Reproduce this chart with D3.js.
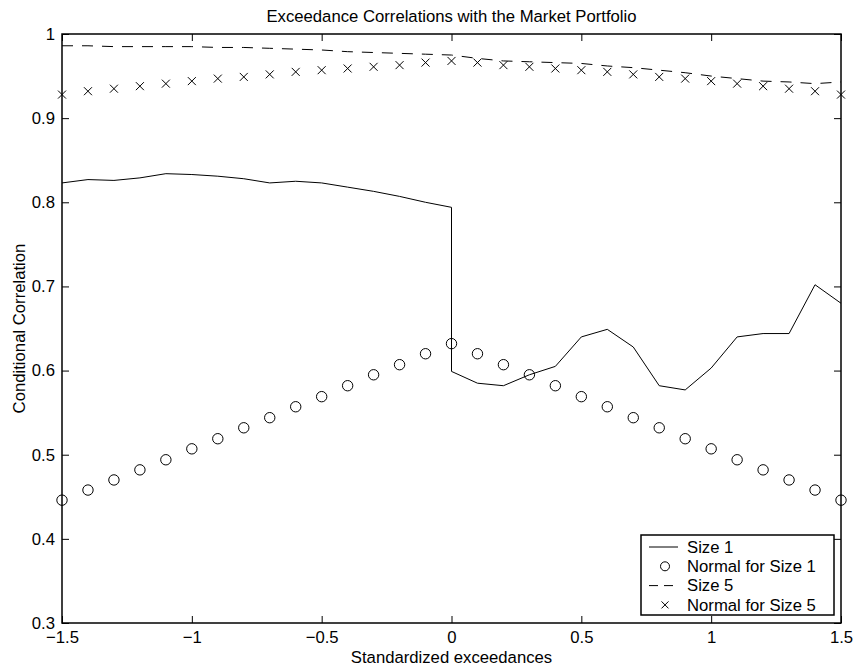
<!DOCTYPE html>
<html>
<head>
<meta charset="utf-8">
<script src="https://cdn.jsdelivr.net/npm/d3@7"></script>
<style>
  body { margin: 0; background: #fff; }
  text { font-family: "Liberation Sans", Arial, Helvetica, sans-serif; fill: #000; }
</style>
</head>
<body>
<div id="chart"></div>
<script>
// Exceedance correlations chart

const width = 857,
    height = 669,
    margin = ({ top: 34, right: 16, bottom: 46, left: 62 });

const fontSize = 16.7;

// x positions for the normal markers
const xNormal = [-1.5, -1.4, -1.3, -1.2, -1.1, -1.0, -0.9, -0.8, -0.7, -0.6, -0.5, -0.4, -0.3, -0.2, -0.1, 0,
    0.1, 0.2, 0.3, 0.4, 0.5, 0.6, 0.7, 0.8, 0.9, 1.0, 1.1, 1.2, 1.3, 1.4, 1.5];
const normalSize1 = [0.446, 0.458, 0.470, 0.482, 0.494, 0.507, 0.519, 0.532, 0.544, 0.557, 0.569, 0.582, 0.595, 0.607, 0.620, 0.632,
    0.620, 0.607, 0.595, 0.582, 0.569, 0.557, 0.544, 0.532, 0.519, 0.507, 0.494, 0.482, 0.470, 0.458, 0.446];
const normalSize5 = [0.928, 0.932, 0.935, 0.938, 0.941, 0.944, 0.947, 0.949, 0.952, 0.955, 0.957, 0.959, 0.961, 0.963, 0.966, 0.968,
    0.966, 0.963, 0.961, 0.959, 0.957, 0.955, 0.952, 0.949, 0.947, 0.944, 0.941, 0.938, 0.935, 0.932, 0.928];

// x positions for the lines (0 appears twice: negative and positive exceedances)
const xLine = [-1.5, -1.4, -1.3, -1.2, -1.1, -1.0, -0.9, -0.8, -0.7, -0.6, -0.5, -0.4, -0.3, -0.2, -0.1, 0,
    0, 0.1, 0.2, 0.3, 0.4, 0.5, 0.6, 0.7, 0.8, 0.9, 1.0, 1.1, 1.2, 1.3, 1.4, 1.5];
const size1 = [0.823, 0.827, 0.826, 0.829, 0.834, 0.833, 0.831, 0.828, 0.823, 0.825, 0.823, 0.818, 0.813, 0.807, 0.800, 0.794,
    0.599, 0.585, 0.582, 0.595, 0.605, 0.640, 0.649, 0.628, 0.582, 0.577, 0.603, 0.640, 0.644, 0.644, 0.702, 0.680];
const size5 = [0.986, 0.986, 0.985, 0.985, 0.985, 0.985, 0.984, 0.984, 0.983, 0.982, 0.981, 0.979, 0.978, 0.977, 0.976, 0.975,
    0.975, 0.971, 0.968, 0.967, 0.966, 0.965, 0.962, 0.960, 0.957, 0.954, 0.950, 0.947, 0.944, 0.943, 0.941, 0.943];

// tick labels
const xTicks = [-1.5, -1, -0.5, 0, 0.5, 1, 1.5];
const xTickLabels = ["\u22121.5", "\u22121", "\u22120.5", "0", "0.5", "1", "1.5"];
const yTicks = [0.3, 0.4, 0.5, 0.6, 0.7, 0.8, 0.9, 1];
const yTickLabels = ["0.3", "0.4", "0.5", "0.6", "0.7", "0.8", "0.9", "1"];

const legendLabels = ["Size 1", "Normal for Size 1", "Size 5", "Normal for Size 5"];
const legendKinds = ["line", "circle", "dash", "cross"];

const svg = d3.select("#chart")
    .append("svg")
    .attr("width", width)
    .attr("height", height)
    .attr("viewBox", [0, 0, width, height]);

let x = d3.scaleLinear()
    .domain([-1.5, 1.5])
    .range([margin.left, width - margin.right]);

let y = d3.scaleLinear()
    .domain([0.3, 1])
    .range([height - margin.bottom, margin.top]);

const tick = 7;

// bottom axis with labels, ticks pointing inward
svg.append("g")
    .attr("transform", `translate(0,${height - margin.bottom})`)
    .call(d3.axisBottom(x).tickValues(xTicks).tickFormat((d, i) => xTickLabels[i])
        .tickSizeInner(-tick).tickSizeOuter(0).tickPadding(8))
    .call(g => g.select(".domain").remove())
    .call(g => g.selectAll("text").attr("font-size", fontSize).attr("dy", "0.71em"));

// top axis, ticks only
svg.append("g")
    .attr("transform", `translate(0,${margin.top})`)
    .call(d3.axisTop(x).tickValues(xTicks).tickFormat("").tickSizeInner(-tick).tickSizeOuter(0))
    .call(g => g.select(".domain").remove());

// left axis with labels
svg.append("g")
    .attr("transform", `translate(${margin.left},0)`)
    .call(d3.axisLeft(y).tickValues(yTicks).tickFormat((d, i) => yTickLabels[i])
        .tickSizeInner(-tick).tickSizeOuter(0).tickPadding(7))
    .call(g => g.select(".domain").remove())
    .call(g => g.selectAll("text").attr("font-size", fontSize));

// right axis, ticks only
svg.append("g")
    .attr("transform", `translate(${width - margin.right},0)`)
    .call(d3.axisRight(y).tickValues(yTicks).tickFormat("").tickSizeInner(-tick).tickSizeOuter(0))
    .call(g => g.select(".domain").remove());

svg.selectAll(".tick line").attr("stroke", "#000");

// frame
svg.append("rect")
    .attr("x", margin.left)
    .attr("y", margin.top)
    .attr("width", width - margin.left - margin.right)
    .attr("height", height - margin.top - margin.bottom)
    .attr("fill", "none")
    .attr("stroke", "#000")
    .attr("stroke-width", 1.5);

// title and axis labels
svg.append("text")
    .attr("x", (margin.left + width - margin.right) / 2)
    .attr("y", 16)
    .attr("dy", "0.35em")
    .attr("text-anchor", "middle")
    .attr("font-size", fontSize)
    .text("Exceedance Correlations with the Market Portfolio");

svg.append("text")
    .attr("x", (margin.left + width - margin.right) / 2)
    .attr("y", 657)
    .attr("dy", "0.35em")
    .attr("text-anchor", "middle")
    .attr("font-size", fontSize)
    .text("Standardized exceedances");

svg.append("text")
    .attr("transform", `translate(19,${(margin.top + height - margin.bottom) / 2}) rotate(-90)`)
    .attr("dy", "0.35em")
    .attr("text-anchor", "middle")
    .attr("font-size", fontSize)
    .text("Conditional Correlation");

// lines
let line = d3.line()
    .x(d => x(d[0]))
    .y(d => y(d[1]));

svg.append("path")
    .datum(d3.zip(xLine, size1))
    .attr("d", line)
    .attr("fill", "none")
    .attr("stroke", "#000")
    .attr("stroke-width", 1);

svg.append("path")
    .datum(d3.zip(xLine, size5))
    .attr("d", line)
    .attr("fill", "none")
    .attr("stroke", "#000")
    .attr("stroke-width", 1)
    .attr("stroke-dasharray", "11,9");

// circle markers
svg.append("g")
    .selectAll("circle")
    .data(d3.zip(xNormal, normalSize1))
    .join("circle")
    .attr("cx", d => x(d[0]))
    .attr("cy", d => y(d[1]))
    .attr("r", 5.2)
    .attr("fill", "none")
    .attr("stroke", "#000")
    .attr("stroke-width", 1);

// cross markers
const cross = (cx, cy, s) => `M${cx - s},${cy - s}L${cx + s},${cy + s}M${cx - s},${cy + s}L${cx + s},${cy - s}`;

svg.append("g")
    .selectAll("path")
    .data(d3.zip(xNormal, normalSize5))
    .join("path")
    .attr("d", d => cross(x(d[0]), y(d[1]), 4))
    .attr("fill", "none")
    .attr("stroke", "#000")
    .attr("stroke-width", 1);

// legend
const lg = svg.append("g");
const lgX = 641, lgY = 535, lgW = 193, lgH = 80, rowH = 19.3;

lg.append("rect")
    .attr("x", lgX)
    .attr("y", lgY)
    .attr("width", lgW)
    .attr("height", lgH)
    .attr("fill", "#fff")
    .attr("stroke", "#000")
    .attr("stroke-width", 1.5);

legendLabels.forEach((label, i) => {
    const cy = lgY + 12 + i * rowH;
    const kind = legendKinds[i];
    if (kind === "line" || kind === "dash") {
        lg.append("line")
            .attr("x1", 649).attr("x2", 678)
            .attr("y1", cy).attr("y2", cy)
            .attr("stroke", "#000")
            .attr("stroke-width", 1)
            .attr("stroke-dasharray", kind === "dash" ? "9,6" : null);
    } else if (kind === "circle") {
        lg.append("circle")
            .attr("cx", 665).attr("cy", cy).attr("r", 4.5)
            .attr("fill", "none").attr("stroke", "#000");
    } else {
        lg.append("path")
            .attr("d", cross(665, cy, 3.5))
            .attr("stroke", "#000");
    }
    lg.append("text")
        .attr("x", 687)
        .attr("y", cy)
        .attr("dy", "0.35em")
        .attr("font-size", fontSize)
        .text(label);
});
</script>
</body>
</html>
